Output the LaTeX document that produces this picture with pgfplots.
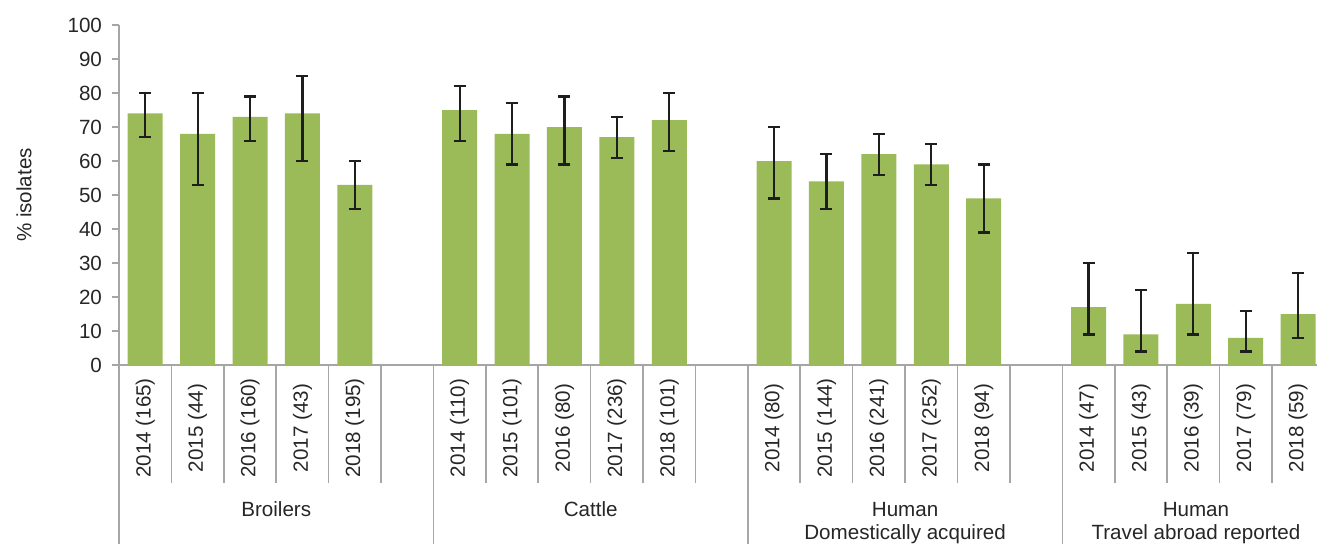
\documentclass[border=0pt]{standalone}
\usepackage{fontspec}
\setmainfont{Liberation Sans}
\usepackage{pgfplots}
\usepackage{pgfplotstable}
\pgfplotsset{compat=1.18}

\definecolor{bargreen}{HTML}{9BBB59}
\definecolor{axisgray}{HTML}{A6A6A6}
\definecolor{txt}{HTML}{262626}
\definecolor{errcol}{HTML}{1E1E1E}

% Resistance (%) with 95% confidence limits; empty slots separate the groups
\pgfplotstableread{
x  y  lo hi
0  74 67 80
1  68 53 80
2  73 66 79
3  74 60 85
4  53 46 60
6  75 66 82
7  68 59 77
8  70 59 79
9  67 61 73
10 72 63 80
12 60 49 70
13 54 46 62
14 62 56 68
15 59 53 65
16 49 39 59
18 17  9 30
19  9  4 22
20 18  9 33
21  8  4 16
22 15  8 27
}\resdata

\begin{document}
\begin{tikzpicture}[font=\fontsize{10.3}{12}\selectfont, text=txt]
\path[use as bounding box] (0,0) rectangle (658.5pt,271.5pt);
\begin{axis}[
  at={(59.5pt,89pt)}, anchor=south west,
  scale only axis, width=599pt, height=170pt,
  xmin=-0.5, xmax=22.36, ymin=0, ymax=100,
  clip=false,
  axis lines*=left,
  axis line style={axisgray, line width=0.8pt},
  tick align=outside,
  major tick length=3.5pt,
  ytick={0,10,...,100},
  ytick style={axisgray, line width=0.8pt},
  yticklabel style={text=txt},
  yticklabel shift=1.5pt,
  /pgf/number format/assume math mode=true,
  xtick={0,1,2,3,4,6,7,8,9,10,12,13,14,15,16,18,19,20,21,22},
  xticklabels={2014 (165),2015 (44),2016 (160),2017 (43),2018 (195),
               2014 (110),2015 (101),2016 (80),2017 (236),2018 (101),
               2014 (80),2015 (144),2016 (241),2017 (252),2018 (94),
               2014 (47),2015 (43),2016 (39),2017 (79),2018 (59)},
  xtick style={draw=none},
  xticklabel style={rotate=90, anchor=center, text=txt},
  xticklabel shift=28pt,
  extra x ticks={0.5,1.5,2.5,3.5,4.5,6.5,7.5,8.5,9.5,10.5,12.5,13.5,14.5,15.5,16.5,18.5,19.5,20.5,21.5},
  extra x tick labels={},
  extra x tick style={major tick length=59pt, xtick style={draw=axisgray, line width=0.8pt}},
  every axis y label/.style={at={(axis description cs:-0.0793,0.5)}, rotate=90, anchor=center},
  ylabel={\% isolates},
]
\addplot[ybar, bar width=17.5pt, bar shift=0pt, fill=bargreen, draw=none,
  error bars/.cd, y dir=both, y explicit,
  error bar style={errcol, line width=1.1pt},
  error mark options={errcol, rotate=90, mark size=3pt, line width=1.1pt}]
  table[x=x, y=y,
        y error plus expr=\thisrow{hi}-\thisrow{y},
        y error minus expr=\thisrow{y}-\thisrow{lo}] {\resdata};

% group separators below the axis
\pgfplotsinvokeforeach{-0.5,5.5,11.5,17.5}{
  \draw[axisgray, line width=0.8pt] (axis cs:#1,0) -- ++(0pt,-95pt);
}
% group names
\node[anchor=base] at (axis cs:2.5,0)  [yshift=-75.5pt] {Broilers};
\node[anchor=base] at (axis cs:8.5,0)  [yshift=-75.5pt] {Cattle};
\node[anchor=base] at (axis cs:14.5,0) [yshift=-75.5pt] {Human};
\node[anchor=base] at (axis cs:14.5,0) [yshift=-87pt]   {Domestically acquired};
\node[anchor=base] at (axis cs:20.05,0) [yshift=-75.5pt] {Human};
\node[anchor=base] at (axis cs:20.05,0) [yshift=-87pt]   {Travel abroad reported};
\end{axis}
\end{tikzpicture}
\end{document}
